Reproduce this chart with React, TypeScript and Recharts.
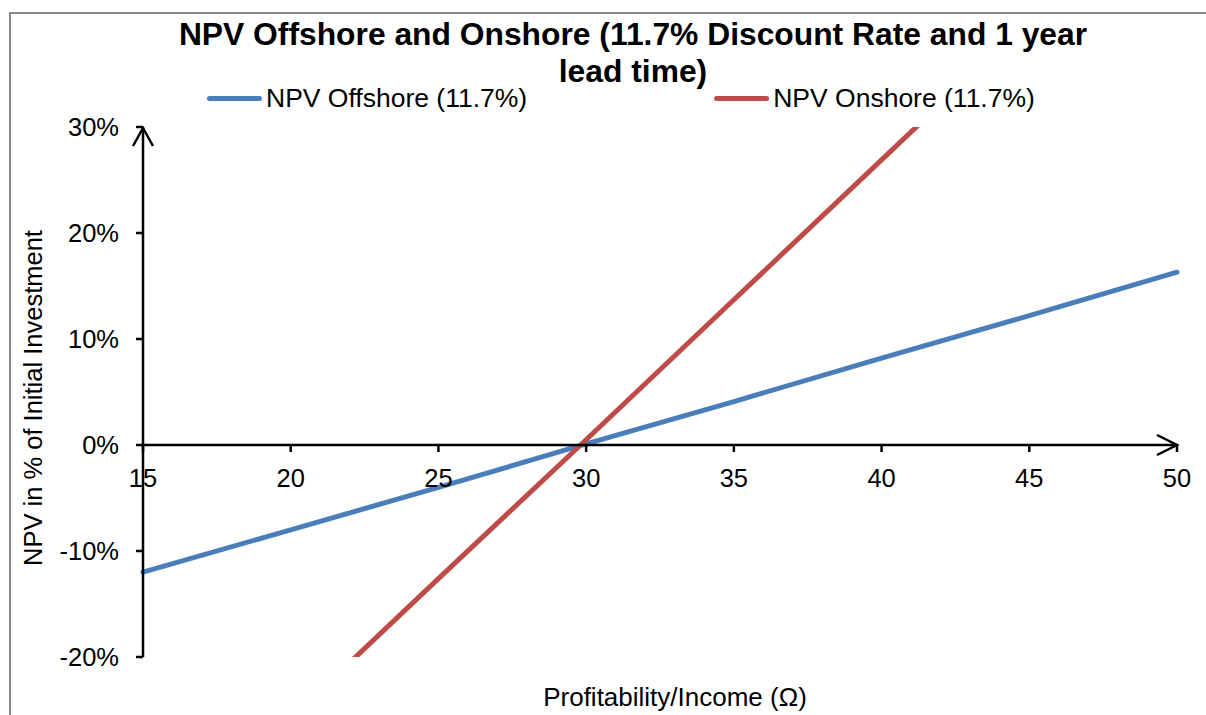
import React from "react";
import { LineChart, Line, XAxis, YAxis, ReferenceLine } from "recharts";

// values
const incomes = [15, 20, 25, 30, 35, 40, 45, 50];
const npvOffshore = [-0.12, -0.08, -0.04, 0.001, 0.041, 0.082, 0.122, 0.163];
const npvOnshore = [-0.39, -0.258, -0.126, 0.005, 0.137, 0.269, 0.401, 0.533];
const xTicks = [15, 20, 25, 30, 35, 40, 45, 50];
const yTicks = [-0.2, -0.1, 0, 0.1, 0.2, 0.3];
const seriesNames = ["NPV Offshore (11.7%)", "NPV Onshore (11.7%)"];
const seriesColors = ["#4A7EBB", "#BE4B48"];

const W = 1206;
const H = 715;
const MARGIN = { top: 127, right: 29, bottom: 28, left: 0 };
const X_AXIS_H = 30;
const Y_MIN = -0.2;
const Y_MAX = 0.3;
const PLOT_H = H - MARGIN.top - MARGIN.bottom - X_AXIS_H;
// distance from plot bottom up to the zero line (the x axis crosses at 0)
const ZERO_OFFSET = (PLOT_H * (0 - Y_MIN)) / (Y_MAX - Y_MIN);

const FONT = '"Liberation Sans", Arial, sans-serif';
const FS = 25.5;

const data = incomes.map((x, i) => ({
  x,
  offshore: npvOffshore[i],
  onshore: npvOnshore[i],
}));

function XTick(props: any) {
  const { x, y, payload } = props;
  const y0 = y - ZERO_OFFSET;
  return (
    <g>
      <line x1={x} y1={y0} x2={x} y2={y0 + 7} stroke="#000" strokeWidth={2.5} />
      <text
        x={x}
        y={y0 + 33}
        textAnchor="middle"
        dominantBaseline="central"
        fontSize={FS}
        fontFamily={FONT}
        fill="#000"
      >
        {payload.value}
      </text>
    </g>
  );
}

function HArrow(props: any) {
  const { x1, x2, y1 } = props;
  const right = Math.max(x1, x2);
  const left = Math.min(x1, x2);
  return (
    <g stroke="#000" strokeWidth={2.5} fill="none">
      <line x1={left} y1={y1} x2={right} y2={y1} />
      <polyline points={`${right - 20},${y1 - 10} ${right},${y1} ${right - 20},${y1 + 10}`} />
    </g>
  );
}

function VArrow(props: any) {
  const { x1, y1, y2 } = props;
  const top = Math.min(y1, y2);
  const bottom = Math.max(y1, y2);
  return (
    <g stroke="#000" strokeWidth={2.5} fill="none">
      <line x1={x1} y1={top} x2={x1} y2={bottom} />
      <polyline points={`${x1 - 10},${top + 19} ${x1},${top + 1} ${x1 + 10},${top + 19}`} />
    </g>
  );
}

export default function App() {
  return (
    <div
      style={{
        position: "relative",
        width: W,
        height: H,
        overflow: "hidden",
        background: "#fff",
        fontFamily: FONT,
        color: "#000",
      }}
    >
      <style>{"body{margin:0}"}</style>
      <div
        style={{
          position: "absolute",
          left: 9,
          top: 12,
          width: W + 50,
          height: H + 50,
          border: "2px solid #8a8a8a",
          boxSizing: "border-box",
        }}
      />

      {/* title */}
      <div
        style={{
          position: "absolute",
          left: 633 - 500,
          top: 16,
          width: 1000,
          textAlign: "center",
          fontWeight: "bold",
          fontSize: 31.8,
          lineHeight: "37px",
        }}
      >
        NPV Offshore and Onshore (11.7% Discount Rate and 1 year
        <br />
        lead time)
      </div>

      {/* legend */}
      <div
        style={{
          position: "absolute",
          left: 207,
          top: 83,
          display: "flex",
          gap: 187,
          fontSize: 26.5,
          lineHeight: "30px",
        }}
      >
        {seriesNames.map((name, i) => (
          <div key={name} style={{ display: "flex", alignItems: "center" }}>
            <div
              style={{
                width: 55,
                height: 5,
                borderRadius: 3,
                background: seriesColors[i],
                marginRight: 4,
              }}
            />
            <span style={{ whiteSpace: "nowrap" }}>{name}</span>
          </div>
        ))}
      </div>

      {/* y axis title */}
      <div
        style={{
          position: "absolute",
          left: 33,
          top: 398,
          transform: "translate(-50%, -50%) rotate(-90deg)",
          whiteSpace: "nowrap",
          fontSize: FS,
        }}
      >
        NPV in % of Initial Investment
      </div>

      {/* x axis title */}
      <div
        style={{
          position: "absolute",
          left: 675,
          top: 697,
          transform: "translate(-50%, -50%)",
          whiteSpace: "nowrap",
          fontSize: 26,
        }}
      >
        Profitability/Income (Ω)
      </div>

      <div style={{ position: "absolute", left: 0, top: 0 }}>
        <LineChart width={W} height={H} data={data} margin={MARGIN}>
          <XAxis
            dataKey="x"
            type="number"
            domain={[15, 50]}
            ticks={xTicks}
            height={X_AXIS_H}
            axisLine={false}
            tickLine={false}
            tickSize={0}
            tickMargin={0}
            tick={<XTick />}
            interval={0}
          />
          <YAxis
            type="number"
            domain={[Y_MIN, Y_MAX]}
            ticks={yTicks}
            allowDataOverflow
            width={143}
            axisLine={false}
            tickLine={{ stroke: "#000", strokeWidth: 2.5 }}
            tickSize={7}
            tickMargin={17}
            interval={0}
            tick={{ fill: "#000", fontSize: FS, fontFamily: FONT }}
            tickFormatter={(v: number) => `${Math.round(v * 100)}%`}
          />
          <Line
            type="linear"
            dataKey="offshore"
            name={seriesNames[0]}
            stroke={seriesColors[0]}
            strokeWidth={5}
            strokeLinecap="round"
            dot={false}
            activeDot={false}
            isAnimationActive={false}
          />
          <Line
            type="linear"
            dataKey="onshore"
            name={seriesNames[1]}
            stroke={seriesColors[1]}
            strokeWidth={5}
            strokeLinecap="round"
            dot={false}
            activeDot={false}
            isAnimationActive={false}
          />
          <ReferenceLine y={0} shape={<HArrow />} />
          <ReferenceLine x={15} shape={<VArrow />} />
        </LineChart>
      </div>
    </div>
  );
}
